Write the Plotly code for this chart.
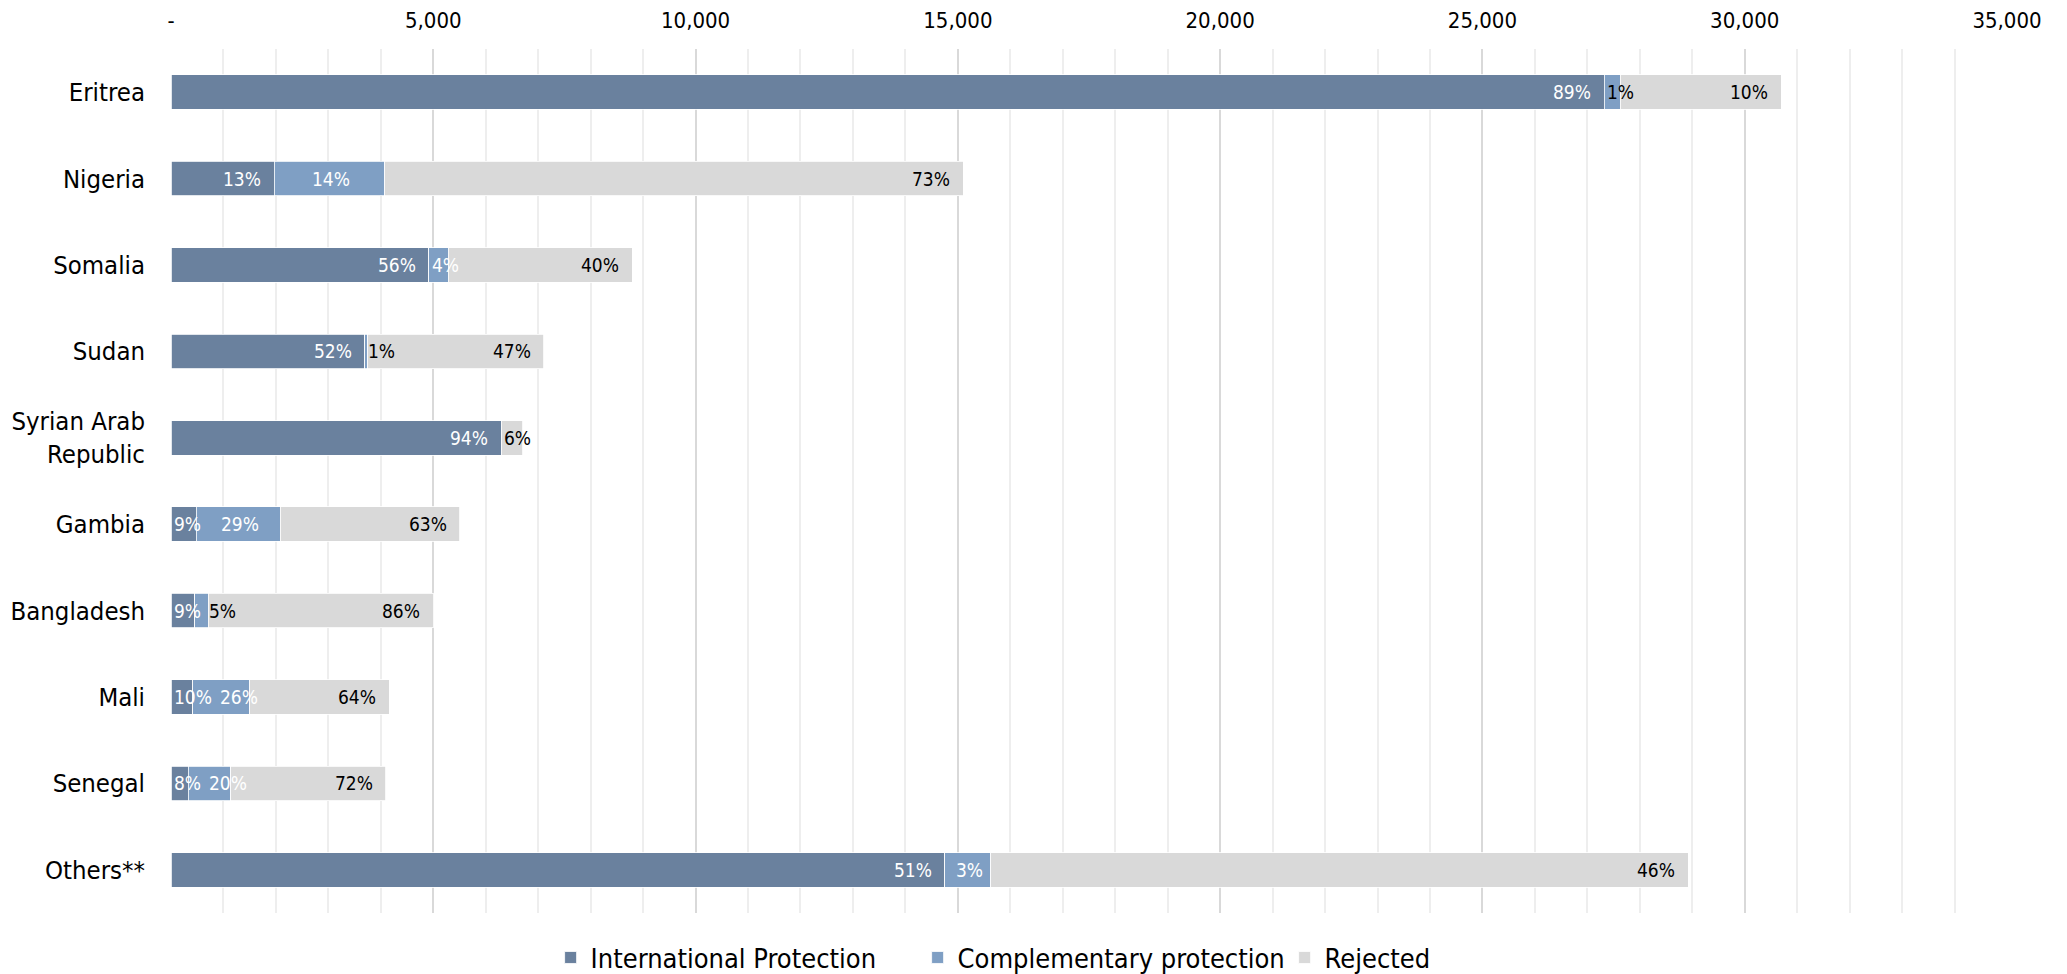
import plotly.graph_objects as go

# ---------------- data ----------------
countries = ["Eritrea", "Nigeria", "Somalia", "Sudan", "Syrian Arab<br>Republic",
             "Gambia", "Bangladesh", "Mali", "Senegal", "Others**"]
intl_protection = [27318, 1964, 4915, 3693, 6299, 482, 451, 417, 332, 14749]
compl_protection = [306, 2109, 366, 59, 0, 1598, 255, 1088, 807, 879]
rejected = [3070, 11028, 3512, 3357, 402, 3424, 4294, 2653, 2951, 13292]

ip_labels = ["89%", "13%", "56%", "52%", "94%", "9%", "9%", "10%", "8%", "51%"]
cp_labels = ["1%", "14%", "4%", "1%", "", "29%", "5%", "26%", "20%", "3%"]
rej_labels = ["10%", "73%", "40%", "47%", "6%", "63%", "86%", "64%", "72%", "46%"]

x_tickvals = [0, 5000, 10000, 15000, 20000, 25000, 30000, 35000]
x_ticktext = ["-", "5,000", "10,000", "15,000", "20,000", "25,000", "30,000", "35,000"]

series_names = ["International Protection", "Complementary protection", "Rejected"]

# ---------------- styling ----------------
# page body has an 8px margin, so the figure is a little smaller than the window
W, H = 2059, 966
ML, MR, MT, MB = 163, 60, 41, 61
XMAX = 35000
C_IP = "#6A819E"
C_CP = "#7F9FC4"
C_REJ = "#D9D9D9"
FONT = "DejaVu Sans Condensed, Liberation Sans Narrow, sans-serif"
LBL_SIZE = 19
PAD = 15
GAP = 8

ppu = (W - ML - MR) / XMAX  # pixels per unit on the x axis


def text_width(s, fs=LBL_SIZE):
    w = 0.0
    for ch in s:
        w += 0.855 if ch == "%" else 0.572
    return w * fs


fig = go.Figure()
for name, vals, col in zip(series_names,
                           [intl_protection, compl_protection, rejected],
                           [C_IP, C_CP, C_REJ]):
    fig.add_trace(go.Bar(
        y=countries, x=vals, name=name, orientation="h",
        marker=dict(color=col, line=dict(color="white", width=0.8)),
        hoverinfo="skip",
    ))

# data labels placed as annotations (positions derived from the data)
annotations = []
for i, c in enumerate(countries):
    segs = [
        (intl_protection[i], ip_labels[i], "end", "white"),
        (compl_protection[i], cp_labels[i], "center", "white"),
        (rejected[i], rej_labels[i], "end", "black"),
    ]
    start = 0.0
    prev_end = None
    for v, lab, mode, tcol in segs:
        end = start + v * ppu
        if lab:
            w = text_width(lab)
            segw = end - start
            if mode == "end" and w + 2 * PAD <= segw:
                left = end - PAD - w
            elif mode == "center" and w <= segw:
                left = (start + end) / 2 - w / 2
            else:
                left = start + 1
            if prev_end is not None:
                left = max(left, prev_end + GAP)
            color = tcol
            if mode == "center":
                overlap = max(0.0, min(left + w, end) - max(left, start)) / w
                if overlap < 0.6:
                    color = "black"
            annotations.append(dict(
                x=left / ppu, y=c, xref="x", yref="y", text=lab,
                showarrow=False, xanchor="left", yanchor="middle",
                font=dict(family=FONT, size=LBL_SIZE, color=color),
            ))
            prev_end = left + w
        start = end

fig.update_layout(
    template="none",
    barmode="stack",
    bargap=0.6,
    width=W, height=H,
    margin=dict(l=ML, r=MR, t=MT, b=MB, autoexpand=False),
    paper_bgcolor="white", plot_bgcolor="white",
    font=dict(family=FONT, color="black"),
    annotations=annotations,
    showlegend=True,
    legend=dict(
        orientation="h", x=0.5066, xanchor="center", y=-0.052, yanchor="middle",
        font=dict(family=FONT, size=27, color="black"),
        traceorder="normal", bgcolor="rgba(0,0,0,0)",
        entrywidth=322, entrywidthmode="pixels",
    ),
    xaxis=dict(
        side="top", range=[0, XMAX], tickvals=x_tickvals, ticktext=x_ticktext,
        tickfont=dict(family=FONT, size=22, color="black"),
        showgrid=True, gridcolor="#D9D9D9", gridwidth=2,
        minor=dict(dtick=1000, showgrid=True, gridcolor="#EEEEEE", gridwidth=2),
        zeroline=False, showline=False, ticks="", ticklabelstandoff=16,
        automargin=False, fixedrange=True,
    ),
    yaxis=dict(
        autorange="reversed", type="category",
        tickfont=dict(family=FONT, size=25.5, color="black"),
        showgrid=False, zeroline=False, showline=False, ticks="",
        ticklabelstandoff=25, automargin=False, fixedrange=True,
    ),
)

fig.write_html("out.html")
